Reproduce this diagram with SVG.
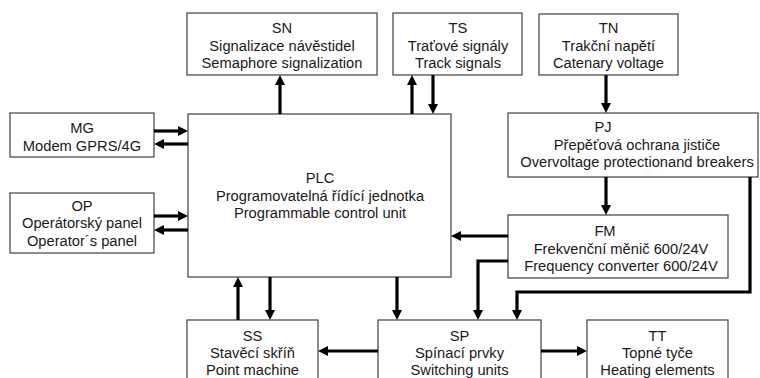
<svg xmlns="http://www.w3.org/2000/svg" width="760" height="378" viewBox="0 0 760 378">
<style>
.box{fill:#fff;stroke:#404040;stroke-width:1.2}
text{font-family:"Liberation Sans",Arial,sans-serif;font-size:14.7px;fill:#1a1a1a;text-anchor:middle}
.c{fill:none;stroke:#000;stroke-width:3.2;marker-end:url(#ah)}
</style>
<defs>
<marker id="ah" viewBox="0 0 10 10" refX="2" refY="5" markerWidth="10" markerHeight="10" markerUnits="userSpaceOnUse" orient="auto">
<path d="M0,0 L10,5 L0,10 z" fill="#000"/>
</marker>
</defs>
<rect width="760" height="378" fill="#fff"/>
<g id="SN"><rect class="box" x="187" y="13" width="190" height="62"/>
<text x="282" y="33">SN</text><text x="282" y="50.5">Signalizace návěstidel</text><text x="282" y="68">Semaphore signalization</text></g>
<g id="TS"><rect class="box" x="393" y="13" width="129" height="62"/>
<text x="458" y="33">TS</text><text x="458" y="50.5">Traťové signály</text><text x="458" y="68">Track signals</text></g>
<g id="TN"><rect class="box" x="539" y="14" width="139" height="61"/>
<text x="608.5" y="33">TN</text><text x="608.5" y="50.5">Trakční napětí</text><text x="608.5" y="68">Catenary voltage</text></g>
<g id="MG"><rect class="box" x="10" y="113" width="144" height="44"/>
<text x="82" y="133">MG</text><text x="82" y="150.5">Modem GPRS/4G</text></g>
<g id="OP"><rect class="box" x="10" y="193" width="144" height="60"/>
<text x="82" y="210.5">OP</text><text x="82" y="228">Operátorský panel</text><text x="82" y="245.5">Operator´s panel</text></g>
<g id="PLC"><rect class="box" x="188" y="114" width="263" height="163"/>
<text x="320" y="183">PLC</text><text x="320" y="200.5">Programovatelná řídící jednotka</text><text x="320" y="218">Programmable control unit</text></g>
<g id="PJ"><rect class="box" x="508" y="113" width="250" height="64"/>
<text x="603" y="132">PJ</text><text x="637" y="149.5">Přepěťová ochrana jističe</text><text x="637" y="167">Overvoltage protectionand breakers</text></g>
<g id="FM"><rect class="box" x="508" y="215" width="220" height="63"/>
<text x="605" y="236">FM</text><text x="621" y="253.5">Frekvenční měnič 600/24V</text><text x="621" y="271">Frequency converter 600/24V</text></g>
<g id="SS"><rect class="box" x="187" y="320" width="131" height="70"/>
<text x="252.5" y="341">SS</text><text x="252.5" y="358">Stavěcí skříň</text><text x="252.5" y="375">Point machine</text></g>
<g id="SP"><rect class="box" x="378" y="320" width="163" height="70"/>
<text x="459.5" y="341">SP</text><text x="459.5" y="358">Spínací prvky</text><text x="459.5" y="375">Switching units</text></g>
<g id="TT"><rect class="box" x="587" y="320" width="141" height="70"/>
<text x="657.5" y="341">TT</text><text x="657.5" y="358">Topné tyče</text><text x="657.5" y="375">Heating elements</text></g>
<g id="connectors">
<path class="c" d="M280,114 V83"/>
<path class="c" d="M412,114 V83"/>
<path class="c" d="M433,75 V106"/>
<path class="c" d="M606,75 V105"/>
<path class="c" d="M606,177 V207"/>
<path class="c" d="M154,131 H180"/>
<path class="c" d="M188,144 H162"/>
<path class="c" d="M154,216 H180"/>
<path class="c" d="M188,230 H162"/>
<path class="c" d="M508,236 H459"/>
<path class="c" d="M508,261 H478 V312"/>
<path class="c" d="M397,277 V312"/>
<path class="c" d="M750,177 V292 H517 V312"/>
<path class="c" d="M270,277 V312"/>
<path class="c" d="M238,320 V285"/>
<path class="c" d="M378,351 H326"/>
<path class="c" d="M541,351 H579"/>
</g>
</svg>
